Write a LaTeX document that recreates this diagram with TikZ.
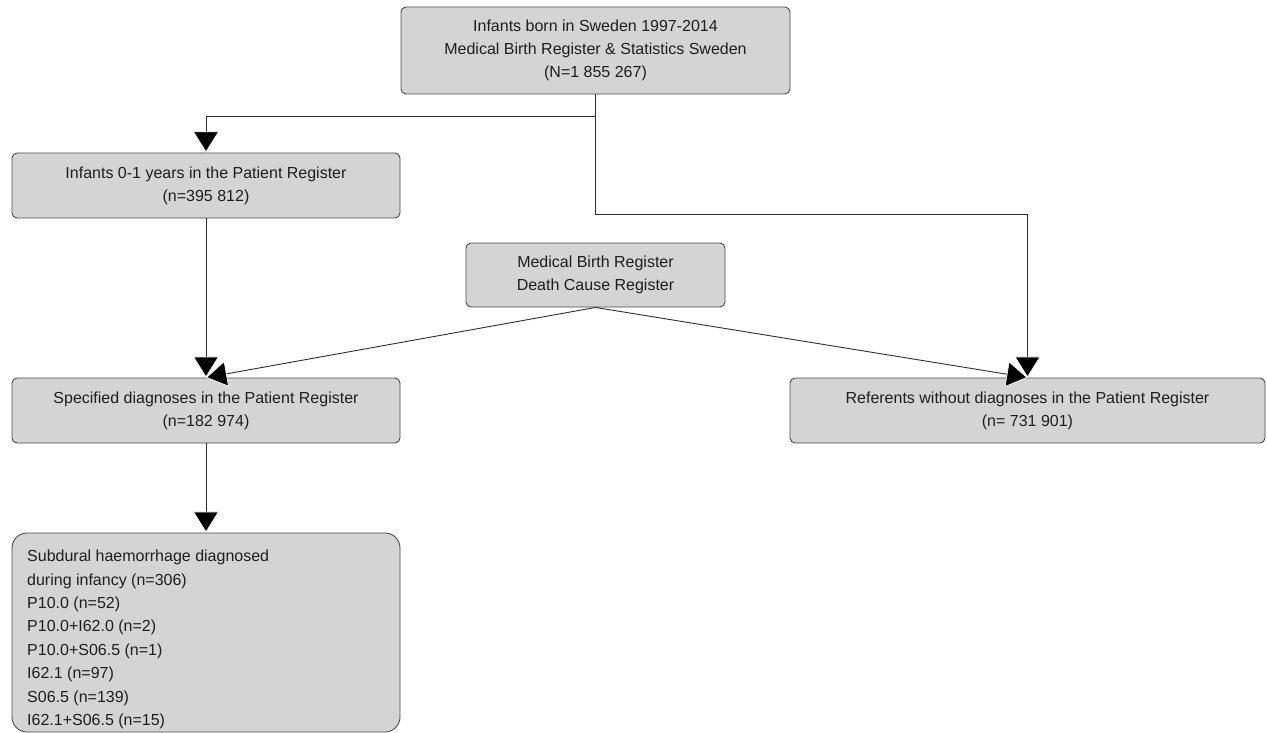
\documentclass[tikz,border=0pt]{standalone}
\usepackage{fontspec}
\setmainfont{Liberation Sans}
\usetikzlibrary{arrows.meta}
\definecolor{boxfill}{HTML}{D4D4D4}
\definecolor{boxline}{HTML}{4A4A4A}
\definecolor{linecol}{HTML}{2E2E2E}
\definecolor{txt}{HTML}{1E1E1E}
\begin{document}
\begin{tikzpicture}[x=1pt,y=-1pt,
  box/.style={draw=boxline, fill=boxfill, line width=0.9pt, rounded corners=5pt,
    align=center, inner sep=0pt, text=txt,
    font=\fontsize{16}{23}\selectfont},
  conn/.style={draw=linecol, line width=0.9pt},
  arr/.style={conn, -{Triangle[length=21pt,width=26pt,fill=black,color=white,line width=0.7pt]}}
]
\useasboundingbox (0,0) rectangle (1267,733);

\node[box, minimum width=389pt, minimum height=87pt] (top) at (595.5,50.5)
  {Infants born in Sweden 1997-2014\\Medical Birth Register \& Statistics Sweden\\(N=1 855 267)};
\node[box, minimum width=388pt, minimum height=65pt] (inf) at (206,185.5)
  {Infants 0-1 years in the Patient Register\\(n=395 812)};
\node[box, minimum width=259pt, minimum height=64pt] (med) at (595.5,275)
  {Medical Birth Register\\Death Cause Register};
\node[box, minimum width=388pt, minimum height=65pt] (spec) at (206,410.5)
  {Specified diagnoses in the Patient Register\\(n=182 974)};
\node[box, minimum width=475pt, minimum height=65pt] (ref) at (1027.5,410.5)
  {Referents without diagnoses in the Patient Register\\(n= 731 901)};
\node[box, rounded corners=15pt, minimum width=388pt, minimum height=199pt] (sub) at (206,632.5) {};
\node[anchor=north west, align=left, inner sep=0pt, text=txt,
  font=\fontsize{16}{23.4}\selectfont] (subtxt) at (27,550)
  {Subdural haemorrhage diagnosed\\during infancy (n=306)\\P10.0 (n=52)\\P10.0+I62.0 (n=2)\\P10.0+S06.5 (n=1)\\I62.1 (n=97)\\S06.5 (n=139)\\I62.1+S06.5 (n=15)};

\coordinate (j1) at (595.5,116);
\coordinate (j2) at (595.5,214);

\draw[conn] (top.south) -- (j1);
\draw[arr] (j1) -| (inf.north);
\draw[arr] (inf.south) -- (spec.north);
\draw[arr] (med.south) -- (spec.north);
\draw[arr] (med.south) -- (ref.north);
\draw[arr] (j1) -- (j2) -| (ref.north);
\draw[arr] (spec.south) -- (sub.north);
\end{tikzpicture}
\end{document}
